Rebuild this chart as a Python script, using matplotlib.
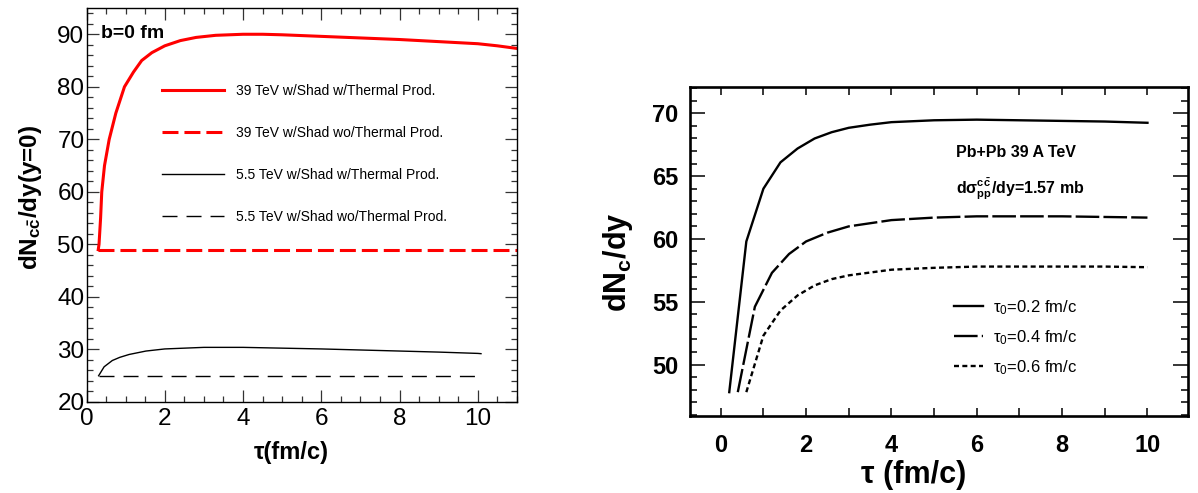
import numpy as np
import matplotlib
matplotlib.use("Agg")
import matplotlib.pyplot as plt
from matplotlib.ticker import MultipleLocator

plt.rcParams["font.family"] = ["Liberation Sans", "DejaVu Sans"]
plt.rcParams["mathtext.fontset"] = "custom"
plt.rcParams["mathtext.rm"] = "Liberation Sans"
plt.rcParams["mathtext.bf"] = "Liberation Sans:bold"
plt.rcParams["mathtext.it"] = "Liberation Sans:italic"
plt.rcParams["mathtext.default"] = "regular"
plt.rcParams["lines.scale_dashes"] = False

# ---- left panel: b=0 fm, dN_ccbar/dy vs tau ----
tau_39_th = [0.30, 0.32, 0.36, 0.39, 0.46, 0.58, 0.75, 0.97, 1.2, 1.41, 1.67, 2.0,
             2.4, 2.8, 3.3, 4.0, 4.5, 5.0, 6.0, 7.0, 8.0, 9.0, 10.0, 10.5, 11.0]
dn_39_th = [49.0, 50.0, 55.0, 60.0, 65.0, 70.0, 75.0, 80.0, 82.8, 85.0, 86.5, 87.8,
            88.8, 89.4, 89.8, 90.0, 90.0, 89.9, 89.6, 89.3, 89.0, 88.6, 88.2, 87.8, 87.3]
tau_39_noth = [0.30, 11.0]
dn_39_noth = [49.0, 49.0]
tau_55_th = [0.31, 0.45, 0.66, 0.85, 1.09, 1.52, 2.0, 3.0, 4.0, 5.0, 6.0, 7.0, 8.0, 9.0, 10.0, 10.08]
dn_55_th = [25.0, 26.7, 27.9, 28.5, 29.05, 29.7, 30.1, 30.4, 30.4, 30.25, 30.1, 29.9, 29.7, 29.5, 29.25, 29.2]
tau_55_noth = [0.31, 10.0]
dn_55_noth = [25.0, 25.0]
left_labels = ["39 TeV w/Shad w/Thermal Prod.", "39 TeV w/Shad wo/Thermal Prod.",
               "5.5 TeV w/Shad w/Thermal Prod.", "5.5 TeV w/Shad wo/Thermal Prod."]

# ---- right panel: Pb+Pb 39 A TeV, different tau_0 ----
tau_02 = [0.2, 0.6, 1.0, 1.4, 1.8, 2.2, 2.6, 3.0, 3.5, 4.0, 5.0, 6.0, 7.0, 8.0, 9.0, 10.0]
dn_02 = [47.8, 59.8, 64.0, 66.1, 67.2, 68.0, 68.5, 68.85, 69.1, 69.3, 69.45, 69.5, 69.45, 69.4, 69.35, 69.25]
tau_04 = [0.4, 0.8, 1.2, 1.6, 2.0, 2.5, 3.0, 4.0, 5.0, 6.0, 7.0, 8.0, 9.0, 10.0]
dn_04 = [47.8, 54.6, 57.3, 58.8, 59.8, 60.5, 61.0, 61.5, 61.7, 61.8, 61.8, 61.8, 61.75, 61.7]
tau_06 = [0.6, 1.0, 1.4, 1.8, 2.2, 2.6, 3.0, 4.0, 5.0, 6.0, 7.0, 8.0, 9.0, 10.0]
dn_06 = [47.8, 52.3, 54.3, 55.5, 56.3, 56.8, 57.1, 57.55, 57.7, 57.8, 57.8, 57.8, 57.8, 57.75]
right_labels = [r"τ$_0$=0.2 fm/c", r"τ$_0$=0.4 fm/c", r"τ$_0$=0.6 fm/c"]

W, H = 1198, 493
fig = plt.figure(figsize=(W / 100, H / 100), dpi=100)

# left axes
ax1 = fig.add_axes([86.5 / W, 1 - 402 / H, 430.5 / W, 394 / H])
ax1.plot(tau_39_th, dn_39_th, color="red", lw=2.2, label=left_labels[0])
ax1.plot(tau_39_noth, dn_39_noth, color="red", lw=2.2, dashes=(11.5, 4.3), label=left_labels[1])
ax1.plot(tau_55_th, dn_55_th, color="black", lw=1.0, label=left_labels[2])
ax1.plot(tau_55_noth, dn_55_noth, color="black", lw=1.0, dashes=(10.8, 6.5), label=left_labels[3])
ax1.set_xlim(0, 11)
ax1.set_ylim(20, 95)
ax1.xaxis.set_major_locator(MultipleLocator(2))
ax1.xaxis.set_minor_locator(MultipleLocator(0.5))
ax1.yaxis.set_major_locator(MultipleLocator(10))
ax1.yaxis.set_minor_locator(MultipleLocator(2))
ax1.tick_params(which="both", direction="in", top=True, right=True, width=0.9, color="#333333")
ax1.tick_params(which="major", length=8.6)
ax1.tick_params(which="minor", length=4.3)
ax1.tick_params(axis="y", labelsize=17.5, pad=1.5)
ax1.tick_params(axis="x", labelsize=17.5, pad=4.3)
for s in ax1.spines.values():
    s.set_linewidth(1.0)
ax1.set_xlabel("τ(fm/c)", fontsize=17, fontweight="bold")
ax1.xaxis.set_label_coords(0.4746, -0.127)
ax1.xaxis.label.set_va("center")
ax1.set_ylabel(r"dN$_{\mathbf{c\bar{c}}}$/dy(y=0)", fontsize=17.5, fontweight="bold")
ax1.yaxis.set_label_coords(-0.13, 0.52)
ax1.yaxis.label.set_va("center")
ax1.text(0.034, 0.9365, "b=0 fm", transform=ax1.transAxes, fontsize=14,
         fontweight="bold", va="center", ha="left")
ax1.legend(loc="upper left", bbox_to_anchor=(0.176, 0.807), frameon=False,
           fontsize=10, handlelength=4.46, handletextpad=0.86, labelspacing=2.02,
           borderpad=0, borderaxespad=0)

# right axes
ax2 = fig.add_axes([690 / W, 1 - 416 / H, 498 / W, 329 / H])
ax2.plot(tau_02, dn_02, color="black", lw=1.7, label=right_labels[0])
ax2.plot(tau_04, dn_04, color="black", lw=1.7, dashes=(17, 3), label=right_labels[1])
ax2.plot(tau_06, dn_06, color="black", lw=1.7, dashes=(3.6, 2.4), label=right_labels[2])
ax2.set_xlim(-0.72, 10.95)
ax2.set_ylim(45.9, 72.1)
ax2.xaxis.set_major_locator(MultipleLocator(2))
ax2.xaxis.set_minor_locator(MultipleLocator(1))
ax2.yaxis.set_major_locator(MultipleLocator(5))
ax2.yaxis.set_minor_locator(MultipleLocator(1))
ax2.tick_params(which="both", direction="in", top=True, right=True, width=1.1)
ax2.tick_params(axis="x", which="both", length=5.5)
ax2.tick_params(axis="y", which="major", length=10.5)
ax2.tick_params(axis="y", which="minor", length=5)
ax2.tick_params(axis="y", labelsize=17, pad=8.6)
ax2.tick_params(axis="x", labelsize=17, pad=13)
for lab in ax2.get_xticklabels() + ax2.get_yticklabels():
    lab.set_fontweight("bold")
for s in ax2.spines.values():
    s.set_linewidth(1.9)
ax2.set_xlabel("τ (fm/c)", fontsize=22, fontweight="bold")
ax2.xaxis.set_label_coords(0.45, -0.179)
ax2.xaxis.label.set_va("center")
ax2.set_ylabel(r"dN$_{\mathbf{c}}$/dy", fontsize=22, fontweight="bold")
ax2.yaxis.set_label_coords(-0.145, 0.468)
ax2.yaxis.label.set_va("center")
ax2.text(0.534, 0.802, "Pb+Pb 39 A TeV", transform=ax2.transAxes, fontsize=11.5,
         fontweight="bold", va="center", ha="left")
ax2.text(0.534, 0.69, r"dσ$^{\mathbf{c\bar{c}}}_{\mathbf{pp}}$/dy=1.57 mb", transform=ax2.transAxes,
         fontsize=11.5, fontweight="bold", va="center", ha="left")
ax2.legend(loc="upper left", bbox_to_anchor=(0.530, 0.359), frameon=False,
           fontsize=12, handlelength=1.75, handletextpad=0.6, labelspacing=0.69,
           borderpad=0, borderaxespad=0)

fig.savefig("out.png", dpi=100)
